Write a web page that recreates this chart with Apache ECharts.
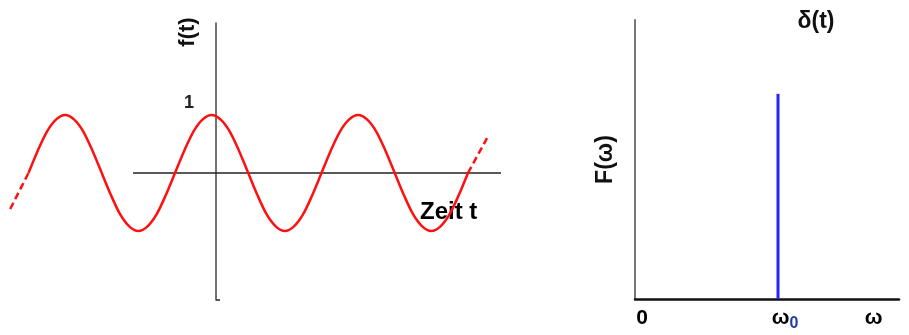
<!DOCTYPE html>
<html>
<head>
<meta charset="utf-8">
<script src="https://cdn.jsdelivr.net/npm/echarts@6/dist/echarts.min.js"></script>
<style>html,body{margin:0;padding:0;background:#fff}#c{width:909px;height:335px}</style>
</head>
<body>
<div id="c"></div>
<script>
// ---- data ----
// left panel: f(t), time in units where one period = 2
const waveT = [-2.56,-2.435,-2.31,-2.185,-2.06,-1.935,-1.81,-1.685,-1.56,-1.435,-1.31,-1.185,-1.06,-0.935,-0.81,-0.685,-0.56,-0.435,-0.31,-0.185,-0.06,0.065,0.19,0.315,0.44,0.565,0.69,0.815,0.94,1.065,1.19,1.315,1.44,1.565,1.69,1.815,1.94,2.065,2.19,2.315,2.44,2.565,2.69,2.815,2.94,3.065,3.19,3.315,3.44];
const waveF = [0,0.38,0.71,0.92,1,0.92,0.71,0.38,0,-0.38,-0.71,-0.92,-1,-0.92,-0.71,-0.38,0,0.38,0.71,0.92,1,0.92,0.71,0.38,0,-0.38,-0.71,-0.92,-1,-0.92,-0.71,-0.38,0,0.38,0.71,0.92,1,0.92,0.71,0.38,0,-0.38,-0.71,-0.92,-1,-0.92,-0.71,-0.38,0];
const leftDashT = [-2.81,-2.56];
const leftDashF = [-0.62,0];
const rightDashT = [3.44,3.70];
const rightDashF = [0,0.60];
const timeAxisT = [-1.133,3.891];
const timeAxisF = [0,0];
const fTickLabels = ['1'];
// right panel: spectrum F(omega), omega in units of omega0
const peakOmega = [1,1];
const peakAmp = [0,1];
const freqTickValues = [0,1,1.62];
const freqTickNames = ['0','ω','ω'];
const freqTickSubs = ['','0',''];

const FONT = '"Liberation Sans", Arial, sans-serif';
const zip = (a,b) => a.map((v,i)=>[v,b[i]]);

const chart = echarts.init(document.getElementById('c'), null, {renderer:'canvas'});
chart.setOption({
  animation:false,
  backgroundColor:'#fff',
  grid:[
    {left:5, right:408, top:23, bottom:35},
    {left:635, right:10, top:20, bottom:36}
  ],
  xAxis:[
    {gridIndex:0, type:'value', min:-2.881, max:3.891,
     axisLine:{show:false}, axisTick:{show:false}, axisLabel:{show:false}, splitLine:{show:false}},
    {gridIndex:1, type:'value', min:0, max:1.846,
     axisLine:{show:true, onZero:false, lineStyle:{color:'#111', width:2.5}},
     axisTick:{show:false}, splitLine:{show:false},
     axisLabel:{show:true, customValues:freqTickValues, margin:9, padding:[0,0,0,14],
       formatter:(v)=>{ const i=freqTickValues.indexOf(v); if(i<0) return '';
         return '{w|'+freqTickNames[i]+'}' + (freqTickSubs[i] ? '{s|'+freqTickSubs[i]+'}' : ''); },
       rich:{
         w:{fontFamily:FONT, fontWeight:'bold', fontSize:21, color:'#000', lineHeight:24, verticalAlign:'top'},
         s:{fontFamily:FONT, fontWeight:'bold', fontSize:16, color:'#203c9c', lineHeight:16, verticalAlign:'bottom', padding:[12,0,0,0]}
       }}}
  ],
  yAxis:[
    {gridIndex:0, type:'value', min:-2.19, max:2.586,
     axisLine:{show:true, onZero:true, lineStyle:{color:'#444', width:1.5}},
     axisTick:{show:false}, splitLine:{show:false}, axisLabel:{show:false}},
    {gridIndex:1, type:'value', min:0, max:1.36,
     axisLine:{show:true, onZero:false, lineStyle:{color:'#777', width:2}},
     axisTick:{show:false}, splitLine:{show:false}, axisLabel:{show:false},
     name:'F(ω)', nameLocation:'middle', nameRotate:90, nameGap:18,
     nameTextStyle:{fontFamily:FONT, fontWeight:'bold', fontSize:23, color:'#111'}}
  ],
  series:[
    {type:'line', xAxisIndex:0, yAxisIndex:0, data:zip(timeAxisT,timeAxisF), clip:false,
     symbol:'none', lineStyle:{color:'#222', width:1.5}, silent:true},
    {type:'line', xAxisIndex:0, yAxisIndex:0, data:zip(waveT,waveF), smooth:0.3, clip:false,
     symbol:'none', lineStyle:{color:'#ff1010', width:2.5}},
    {type:'line', xAxisIndex:0, yAxisIndex:0, data:zip(leftDashT,leftDashF), clip:false,
     symbol:'none', lineStyle:{color:'#ff1010', width:2.5, type:[7,4]}},
    {type:'line', xAxisIndex:0, yAxisIndex:0, data:zip(rightDashT,rightDashF), clip:false,
     symbol:'none', lineStyle:{color:'#ff1010', width:2.5, type:[7,4]}},
    {type:'line', xAxisIndex:1, yAxisIndex:1, data:zip(peakOmega,peakAmp), clip:false,
     symbol:'none', lineStyle:{color:'#2323ff', width:3}}
  ],
  graphic:[
    {type:'text', x:188, y:32, rotation:Math.PI/2, style:{text:'f(t)', fontFamily:FONT, fontWeight:'bold', fontSize:22, fill:'#111', align:'center', verticalAlign:'middle'}},
    {type:'text', x:189, y:103, style:{text:fTickLabels[0], fontFamily:FONT, fontWeight:'bold', fontSize:18, fill:'#222', align:'center', verticalAlign:'middle'}},
    {type:'text', x:420, y:212, style:{text:'Zeit t', fontFamily:FONT, fontWeight:'bold', fontSize:24, fill:'#000', align:'left', verticalAlign:'middle'}},
    {type:'text', x:816, y:22, style:{text:'δ(t)', fontFamily:FONT, fontWeight:'bold', fontSize:23, fill:'#111', align:'center', verticalAlign:'middle'}},
    {type:'line', shape:{x1:216, y1:300, x2:220, y2:300}, style:{stroke:'#222', lineWidth:1.5}}
  ]
});
</script>
</body>
</html>
